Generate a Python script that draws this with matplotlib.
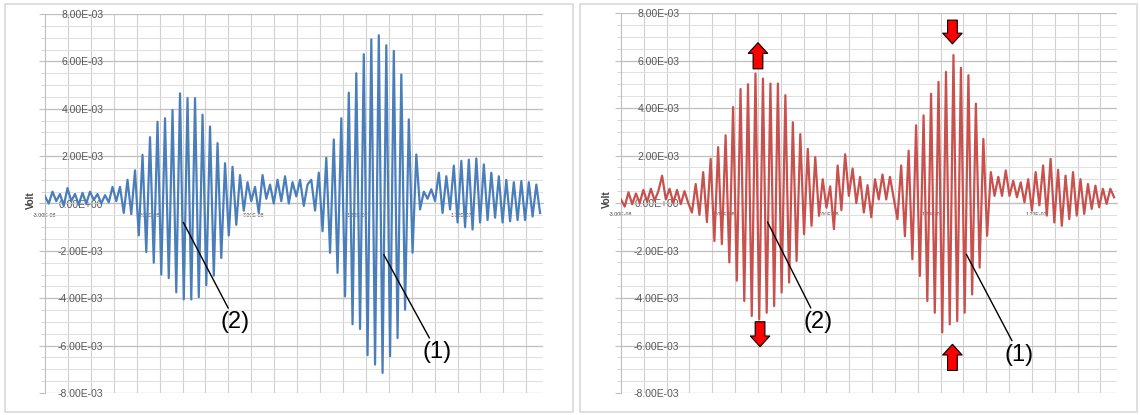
import numpy as np
import matplotlib
matplotlib.use("Agg")
import matplotlib.pyplot as plt
from matplotlib.patches import Rectangle
from matplotlib.ticker import FuncFormatter, FixedLocator

plt.rcParams['font.family'] = ['Liberation Sans', 'DejaVu Sans']

# sampling of the traces (one value every half period)
t_start = -3.0e-8
t_step = 1.8e-9

# measured voltage, mV
blue_mv = [
    0.3, 0.0, 0.5, 0.1, 0.4, -0.1, 0.65, 0.1, 0.4, -0.05, 0.45, 0.0, 0.5, 0.15, 0.4, 0.0,
    0.35, 0.05, 0.7, 0.1, 0.7, -0.4,
    1.0, -0.45, 1.4, -1.35, 2.05, -2.05, 2.8, -2.5, 3.45, -3.0, 3.6, -3.15, 3.95, -3.75,
    4.65, -4.05, 4.45, -4.05, 4.45, -3.95, 3.75, -3.45, 3.25, -3.05, 2.55, -2.3, 1.7, -1.35,
    1.55, -0.9, 1.2,
    -0.3, 0.9, 0.1, 0.7, -0.4, 1.2, 0.2, 0.8, 0.0, 1.0, 0.1, 1.15, 0.0, 0.9, 0.3, 1.0,
    -0.1, 0.8, 1.0, -0.3,
    1.3, -1.17, 1.93, -2.08, 2.7, -2.93, 3.6, -3.92, 4.68, -5.1, 5.5, -5.3, 6.3, -6.4,
    6.93, -6.8, 7.1, -7.15, 6.68, -6.45, 6.44, -5.68, 5.45, -4.48, 3.55, -2.08, 2.07, -0.25,
    0.5, 0.2, 0.6, 0.1,
    1.3, -0.4, 1.15, -0.25, 1.6, -0.8, 1.8, -1.0, 1.85, -1.1, 1.9, -0.8, 1.65, -0.7,
    1.3, -0.6, 1.15, -0.8, 1.0, -0.75, 0.9, -0.7, 0.95, -0.7, 0.9, -0.55, 0.8, -0.4,
]
red_mv = [
    0.15, -0.15, 0.45, -0.05, 0.4, 0.0, 0.55, 0.05, 0.6, 0.1, 0.5, 1.15, 0.15, 0.6, 0.0,
    0.55, -0.05, 0.5, 0.0, -0.4,
    0.8, -0.5, 1.3, -0.8, 1.86, -1.6, 2.35, -1.73, 2.85, -2.5, 4.04, -3.27, 4.8, -4.13,
    5.0, -4.76, 5.45, -4.9, 5.24, -4.62, 5.03, -4.34, 5.03, -3.77, 4.54, -3.35, 3.4, -2.44,
    2.9, -1.31, 2.28, -0.96, 1.93, -0.54, 1.0,
    -0.2, 0.7, -1.1, 1.58, -0.3, 2.05, 0.3, 1.45, 0.0, 1.1, -0.4, 0.75, -0.6, 1.0, 0.15,
    1.2, 0.15, 1.1, 0.2,
    -0.68, 1.58, -1.4, 2.2, -2.37, 3.27, -3.07, 3.69, -4.13, 4.6, -4.62, 5.1, -5.45, 5.52,
    -5.11, 6.23, -4.97, 5.69, -4.62, 5.38, -3.85, 4.18, -2.72, 2.7, -1.38, 1.3,
    0.3, 1.1, 0.3, 1.37, 0.3, 0.94, 0.24, 0.87, 0.03, 1.0, -0.32, 1.3, -0.1, 1.58, -0.53,
    1.86, -0.82, 1.4, -0.96, 1.15, -0.68, 1.3, -0.53, 1.0, -0.46, 0.8, -0.25, 0.73, -0.18,
    0.6, -0.04, 0.6, 0.24,
]

x_labels = [-3e-8, 2e-8, 7e-8, 1.2e-7, 1.7e-7]
y_labels = [-8e-3, -6e-3, -4e-3, -2e-3, 0.0, 2e-3, 4e-3, 6e-3, 8e-3]
x_grid_step = 1.1e-8
t_end = 2.09e-7

fig = plt.figure(figsize=(11.4, 4.15), dpi=100)

# panel frames
for x0, x1 in [(5, 573), (580, 1137)]:
    fig.patches.append(Rectangle((x0 / 1140, 3 / 415), (x1 - x0) / 1140, 408 / 415,
                                 transform=fig.transFigure, fill=False,
                                 ec='#D9D9D9', lw=1.2))


def draw_panel(rect, values_mv, color):
    ax = fig.add_axes(rect)
    t = t_start + t_step * np.arange(len(values_mv))
    ax.plot(t, np.array(values_mv) * 1e-3, color=color, lw=1.6, zorder=3)

    ax.set_xlim(t_start, t_end)
    ax.set_ylim(-8e-3, 8e-3)

    ax.yaxis.set_major_locator(FixedLocator(y_labels))
    ax.yaxis.set_minor_locator(FixedLocator(np.arange(-8e-3, 8.01e-3, 0.5e-3)))
    ax.xaxis.set_major_locator(FixedLocator(x_labels))
    ax.xaxis.set_minor_locator(FixedLocator(np.arange(t_start, t_end, x_grid_step)))
    fmt = FuncFormatter(lambda v, p: f'{v:.2E}')
    ax.yaxis.set_major_formatter(fmt)
    ax.xaxis.set_major_formatter(fmt)

    ax.grid(which='major', axis='y', color='#BFBFBF', lw=0.9)
    ax.grid(which='minor', axis='y', color='#DEDEDE', lw=0.7)
    ax.grid(which='minor', axis='x', color='#D0D0D0', lw=0.8)
    ax.set_axisbelow(True)

    for s in ['top', 'right']:
        ax.spines[s].set_visible(False)
    ax.spines['left'].set_color('#BFBFBF')
    ax.spines['bottom'].set_position(('data', 0))
    ax.spines['bottom'].set_color('#BFBFBF')

    ax.tick_params(axis='y', which='major', length=4, color='#BFBFBF',
                   labelsize=7.5, labelcolor='#595959', pad=-46)
    ax.tick_params(axis='y', which='minor', length=3, color='#D0D0D0')
    ax.tick_params(axis='x', which='both', length=0, labelsize=3.8,
                   labelcolor='#404040', pad=6.5)
    for lab in ax.get_yticklabels():
        lab.set_horizontalalignment('right')

    ax.set_ylabel('Volt', fontsize=7, fontweight='bold', color='#404040', labelpad=0)
    ax.yaxis.set_label_coords(-0.018, 0.51)
    return ax


ax1 = draw_panel([45 / 1140, 22 / 415, 498 / 1140, 379 / 415], blue_mv, '#4A7EBB')
ax2 = draw_panel([621 / 1140, 22 / 415, 496 / 1140, 380 / 415], red_mv, '#C8504D')

# labelled pulses
line_kw = dict(arrowstyle='-', color='black', lw=1.0, shrinkA=0, shrinkB=0)
ax1.annotate('(2)', xy=(3.64e-8, -0.8e-3), xytext=(6.14e-8, -5.0e-3), fontsize=17,
             ha='center', va='center', arrowprops=line_kw)
ax1.annotate('(1)', xy=(1.326e-7, -2.16e-3), xytext=(1.581e-7, -6.26e-3), fontsize=17,
             ha='center', va='center', arrowprops=line_kw)
ax2.annotate('(2)', xy=(4.06e-8, -0.8e-3), xytext=(6.48e-8, -5.0e-3), fontsize=17,
             ha='center', va='center', arrowprops=line_kw)
ax2.annotate('(1)', xy=(1.364e-7, -2.16e-3), xytext=(1.619e-7, -6.38e-3), fontsize=17,
             ha='center', va='center', arrowprops=line_kw)

# red block arrows around the pulse envelopes
arrow_kw = dict(arrowstyle='simple,head_length=0.55,head_width=1.0,tail_width=0.5',
                mutation_scale=14, fc='#FF0000', ec='black', lw=0.8,
                shrinkA=0, shrinkB=0)
for t_pos, tail, tip in [(3.6e-8, 5.65e-3, 6.75e-3), (3.7e-8, -5.0e-3, -6.05e-3),
                         (1.297e-7, 7.7e-3, 6.7e-3), (1.297e-7, -7.05e-3, -5.95e-3)]:
    ax2.annotate('', xy=(t_pos, tip), xytext=(t_pos, tail), arrowprops=arrow_kw)

fig.savefig('out.png', dpi=100)
